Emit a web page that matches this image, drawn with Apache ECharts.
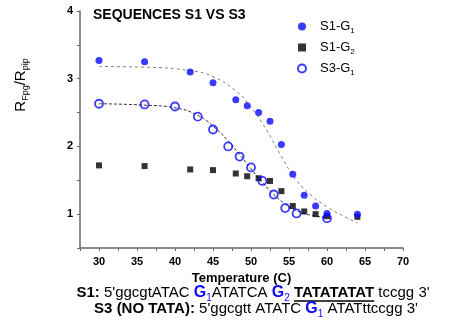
<!DOCTYPE html>
<html>
<head>
<meta charset="utf-8">
<script src="https://cdn.jsdelivr.net/npm/echarts@6/dist/echarts.min.js"></script>
<style>
	html, body { margin: 0; padding: 0; background: #fff; }
	#chart { width: 469px; height: 332px; }
</style>
</head>
<body>
<div id="chart"></div>
<script>
let s1g1_x = [30, 36, 42, 45, 48, 49.5, 51, 52.5, 54, 55.5, 57, 58.5, 60, 64];
let s1g1_y = [3.27, 3.25, 3.10, 2.94, 2.69, 2.60, 2.50, 2.37, 2.03, 1.59, 1.28, 1.12, 1.01, 1.00];

let s1g2_x = [30, 36, 42, 45, 48, 49.5, 51, 52.5, 54, 55.5, 57, 58.5, 60, 64];
let s1g2_y = [1.72, 1.71, 1.66, 1.65, 1.60, 1.56, 1.53, 1.49, 1.34, 1.12, 1.04, 1.00, 0.97, 0.96];

let s3g1_x = [30, 36, 40, 43, 45, 47, 48.5, 50, 51.5, 53, 54.5, 56, 60];
let s3g1_y = [2.63, 2.62, 2.59, 2.44, 2.25, 2.00, 1.85, 1.69, 1.49, 1.29, 1.09, 1.01, 0.94];

// dashed fit curves
let fit1_x = [30, 36, 42, 45, 48, 50, 52, 54, 56, 58, 60, 62, 64];
let fit1_y = [3.18, 3.17, 3.12, 3.03, 2.82, 2.58, 2.25, 1.85, 1.50, 1.27, 1.11, 0.98, 0.87];

let fit3_x = [30, 36, 40, 43, 45, 47, 48.5, 50, 51.5, 53, 54.5, 56, 58, 60];
let fit3_y = [2.63, 2.61, 2.57, 2.46, 2.30, 2.08, 1.88, 1.67, 1.47, 1.29, 1.15, 1.05, 0.98, 0.95];

let xTicks = [30, 35, 40, 45, 50, 55, 60, 65, 70];
let yTicks = [1, 2, 3, 4];

let zip = (xs, ys) => xs.map((x, i) => [x, ys[i]]);

let blue = "#0a0aff";
let font = "Liberation Sans, Arial, sans-serif";

let myChart = echarts.init(document.getElementById("chart"));

let seqRich = {
	b: { fontSize: 15, fontWeight: "bold", fontFamily: font },
	g: { fontSize: 16, fontWeight: "bold", fontFamily: font, fill: blue },
	gs: { fontSize: 10, fontFamily: font, fill: blue, padding: [10, 0, 0, 0] },
};

// where the underline under TATATATAT goes: measure the line 1 pieces
let ctx = document.createElement("canvas").getContext("2d");
let tw = function (s, f) {
	ctx.font = f;
	return ctx.measureText(s).width;
};
let fN = "15px " + font;
let fB = "bold 15px " + font;
let fG = "bold 16px " + font;
let fS = "10px " + font;
let line1_cx = 253;
let pre =
	tw("S1:", fB) + tw(" 5'ggcgtATAC ", fN) + tw("G", fG) + tw("1", fS) +
	tw("ATATCA ", fN) + tw("G", fG) + tw("2", fS) + tw(" ", fN);
let tata = tw("TATATATAT", fB);
let total = pre + tata + tw(" tccgg 3'", fN);
let ul_x1 = line1_cx - total / 2 + pre;
let ul_x2 = ul_x1 + tata;

let option = {
	backgroundColor: "#fff",
	animation: false,
	textStyle: { fontFamily: font },
	grid: {
		left: 80,
		right: 66,
		top: 11,
		bottom: 84,
	},
	legend: {
		left: 292,
		top: 15,
		orient: "vertical",
		itemGap: 6,
		itemWidth: 8,
		itemHeight: 8,
		data: ["S1-G1", "S1-G2", "S3-G1"],
		formatter: function (name) {
			return name.replace(/G(\d)/, "G{sub|$1}");
		},
		textStyle: {
			fontSize: 13,
			color: "#000",
			padding: [0, 0, 0, 9],
			rich: {
				sub: { fontSize: 8, padding: [9, 0, 0, 0] },
			},
		},
	},
	xAxis: {
		type: "value",
		min: 27.5,
		max: 70,
		interval: 2.5,
		name: "Temperature (C)",
		nameLocation: "middle",
		nameGap: 18,
		nameTextStyle: { fontSize: 13, fontWeight: "bold", color: "#000" },
		axisLine: { onZero: false, lineStyle: { color: "#666", width: 1.5 } },
		axisTick: { length: 3, lineStyle: { color: "#666" } },
		axisLabel: {
			fontSize: 11,
			fontWeight: "bold",
			color: "#000",
			margin: 8,
			formatter: (v) => (xTicks.includes(v) ? String(v) : ""),
		},
		splitLine: { show: false },
	},
	yAxis: {
		type: "value",
		min: 0.5,
		max: 4,
		interval: 0.5,
		axisLine: { show: true, onZero: false, lineStyle: { color: "#666", width: 1.5 } },
		axisTick: { show: true, length: 3, lineStyle: { color: "#666" } },
		axisLabel: {
			fontSize: 11,
			fontWeight: "bold",
			color: "#000",
			margin: 7,
			formatter: (v) => (yTicks.includes(v) ? String(v) : ""),
		},
		splitLine: { show: false },
	},
	graphic: [
		{
			type: "text",
			left: 93,
			top: 8,
			style: {
				text: "SEQUENCES S1 VS S3",
				fontSize: 14,
				fontWeight: "bold",
				fontFamily: font,
				fill: "#000",
			},
		},
		{
			type: "text",
			x: 21,
			y: 85,
			rotation: Math.PI / 2,
			style: {
				text: "R{s|Fpg}/R{s|pip}",
				fontSize: 15,
				fontFamily: font,
				fill: "#000",
				align: "center",
				verticalAlign: "middle",
				rich: {
					s: { fontSize: 9, fontFamily: font, padding: [10, 0, 0, 0] },
				},
			},
		},
		{
			type: "text",
			x: line1_cx,
			y: 293,
			style: {
				text: "{b|S1:} 5'ggcgtATAC {g|G}{gs|1}ATATCA {g|G}{gs|2} {b|TATATATAT} tccgg 3'",
				fontSize: 15,
				fontFamily: font,
				fill: "#000",
				align: "center",
				verticalAlign: "middle",
				rich: seqRich,
			},
		},
		{
			type: "line",
			shape: { x1: ul_x1, y1: 301, x2: ul_x2, y2: 301 },
			style: { stroke: "#000", lineWidth: 1.3 },
		},
		{
			type: "text",
			x: 256,
			y: 309,
			style: {
				text: "{b|S3 (NO TATA):} 5'ggcgtt ATATC {g|G}{gs|1} ATATttccgg 3'",
				fontSize: 15,
				fontFamily: font,
				fill: "#000",
				align: "center",
				verticalAlign: "middle",
				rich: seqRich,
			},
		},
	],
	series: [
		{
			name: "fit S1-G1",
			type: "line",
			smooth: true,
			symbol: "none",
			z: 1,
			lineStyle: { color: "#808080", width: 1, type: [3, 3] },
			data: zip(fit1_x, fit1_y),
		},
		{
			name: "fit S3-G1",
			type: "line",
			smooth: true,
			symbol: "none",
			z: 1,
			lineStyle: { color: "#333", width: 1, type: [3, 2] },
			data: zip(fit3_x, fit3_y),
		},
		{
			name: "S1-G1",
			type: "scatter",
			symbol: "circle",
			symbolSize: 7,
			z: 3,
			itemStyle: { color: blue },
			data: zip(s1g1_x, s1g1_y),
		},
		{
			name: "S1-G2",
			type: "scatter",
			symbol: "rect",
			symbolSize: 6,
			z: 2,
			itemStyle: { color: "#000" },
			data: zip(s1g2_x, s1g2_y),
		},
		{
			name: "S3-G1",
			type: "scatter",
			symbol: "circle",
			symbolSize: 8,
			z: 3,
			itemStyle: { color: "transparent", borderColor: blue, borderWidth: 1.8 },
			data: zip(s3g1_x, s3g1_y),
		},
	],
};

myChart.setOption(option);
</script>
</body>
</html>
